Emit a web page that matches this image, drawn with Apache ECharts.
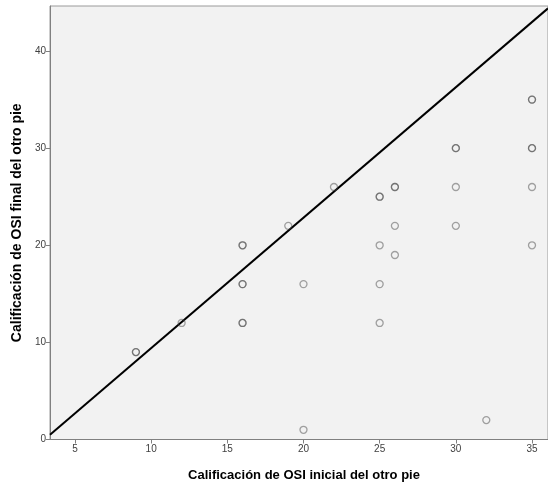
<!DOCTYPE html>
<html>
<head>
<meta charset="utf-8">
<script src="https://cdn.jsdelivr.net/npm/echarts@6/dist/echarts.min.js"></script>
<style>
html,body{margin:0;padding:0;background:#fff;}
#chart{width:548px;height:487px;}
</style>
</head>
<body>
<div id="chart"></div>
<script>
// Calificación de OSI inicial (x) and final (y) del otro pie
const initialScore = [9,9,12,16,16,16,16,16,16,19,20,20,22,25,25,25,25,25,26,26,26,26,30,30,30,30,32,35,35,35,35,35,35];
const finalScore   = [9,9,12,20,20,16,16,12,12,22,16,1,26,25,25,20,16,12,26,26,22,19,30,30,26,22,2,35,35,30,30,26,20];
// reference line end points
const refLineX = [3.36, 36.05];
const refLineY = [0.5, 44.4];
const xTicks = [5,10,15,20,25,30,35];
const yTicks = [0,10,20,30,40];
const xTitle = 'Calificación de OSI inicial del otro pie';
const yTitle = 'Calificación de OSI final del otro pie';

const points = initialScore.map((x, i) => [x, finalScore[i]]);
const linePts = refLineX.map((x, i) => [x, refLineY[i]]);

const chart = echarts.init(document.getElementById('chart'), null, {renderer: 'canvas'});
chart.setOption({
  animation: false,
  backgroundColor: '#ffffff',
  grid: {left: 50, right: 0, top: 6, bottom: 47.5, show: true, backgroundColor: '#f2f2f2', borderColor: '#9a9a9a', borderWidth: 1},
  xAxis: {
    type: 'value', min: 3.36, max: 36.05, interval: 5,
    name: xTitle, nameLocation: 'middle', nameGap: 29,
    nameTextStyle: {fontFamily: 'Liberation Sans', fontWeight: 'bold', fontSize: 13, color: '#000', padding: [0, 0, 0, 10]},
    axisLine: {show: true, onZero: false, lineStyle: {color: '#808080', width: 1}},
    axisTick: {show: true, length: 4, lineStyle: {color: '#808080'}, customValues: xTicks},
    axisLabel: {fontFamily: 'Liberation Sans', fontSize: 10, color: '#404040', margin: 5, customValues: xTicks},
    splitLine: {show: false}
  },
  yAxis: {
    type: 'value', min: 0, max: 44.64, interval: 10,
    name: yTitle, nameLocation: 'middle', nameGap: 23, nameRotate: 90,
    nameTextStyle: {fontFamily: 'Liberation Sans', fontWeight: 'bold', fontSize: 14, color: '#000'},
    axisLine: {show: true, onZero: false, lineStyle: {color: '#808080', width: 1}},
    axisTick: {show: true, length: 4, lineStyle: {color: '#808080'}, customValues: yTicks},
    axisLabel: {fontFamily: 'Liberation Sans', fontSize: 10, color: '#404040', margin: 4, customValues: yTicks},
    splitLine: {show: false}
  },
  series: [
    {
      type: 'line', data: linePts, symbol: 'none', silent: true,
      lineStyle: {color: '#000', width: 2}, z: 2
    },
    {
      type: 'scatter', data: points, symbol: 'circle', symbolSize: 7,
      itemStyle: {color: 'rgba(0,0,0,0)', borderColor: 'rgba(70,70,70,0.6)', borderWidth: 1.3},
      z: 3
    }
  ]
});
</script>
</body>
</html>
